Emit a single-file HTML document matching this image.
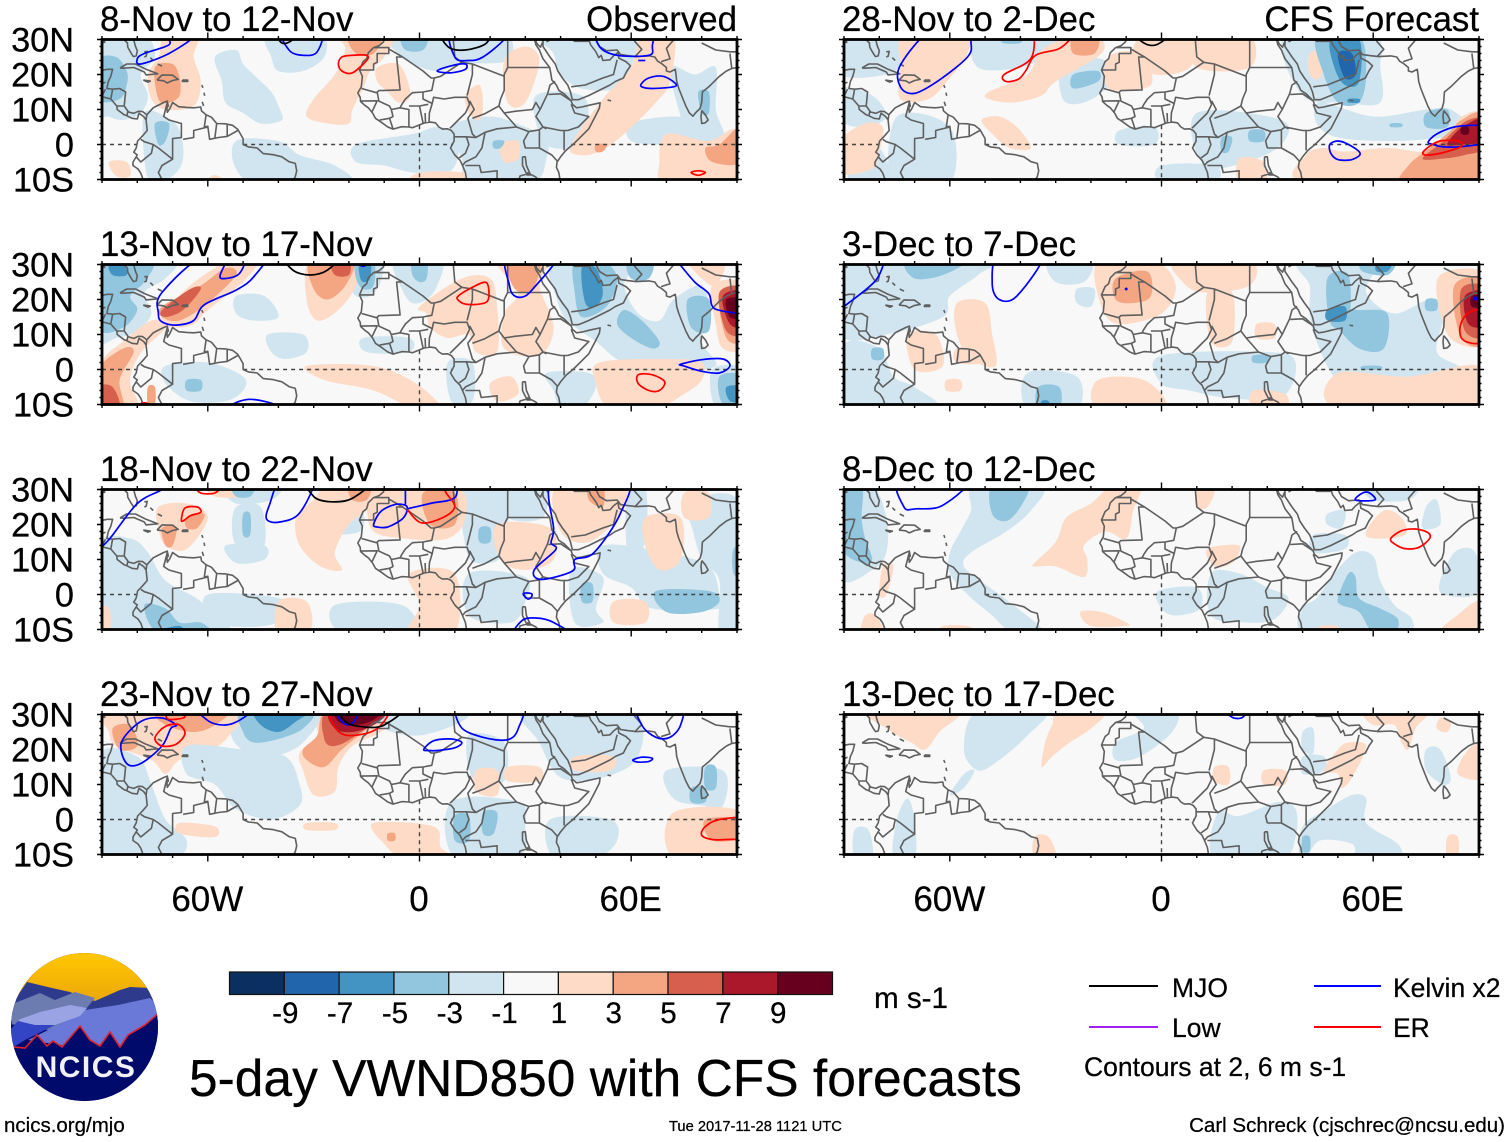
<!DOCTYPE html>
<html lang="en">
<head>
<meta charset="utf-8">
<title>5-day VWND850 with CFS forecasts</title>
<style>
html,body{margin:0;padding:0;background:#fff}
svg{display:block}
text{font-family:"Liberation Sans",sans-serif;fill:#000;stroke:#000;stroke-width:.25}
</style>
</head>
<body>
<svg id="chart" xmlns="http://www.w3.org/2000/svg" width="1510" height="1142" viewBox="0 0 1510 1142">
<rect width="1510" height="1142" fill="#fff"/>
<defs><clipPath id="logo-clip"><ellipse cx="84.5" cy="1027" rx="73.5" ry="74"/></clipPath>
<linearGradient id="sky" x1="0" y1="0" x2="0" y2="1"><stop offset="0" stop-color="#ffc800"/><stop offset="1" stop-color="#eda70a"/></linearGradient></defs>
<g id="panels"></g>
<g id="colorbar"></g>
<text x="874" y="1008" font-size="29.6">m s-1</text>
<text x="189" y="1096" font-size="51.5">5-day VWND850 with CFS forecasts</text>
<g clip-path="url(#logo-clip)">
<rect x="10" y="952" width="150" height="150" fill="#000a6b"/>
<rect x="10" y="952" width="150" height="50" fill="url(#sky)"/>
<polygon fill="#2e3a8c" points="12,1004 27,982 52,988 70,992 80,996 95,1001 120,990 130,987 150,988 160,1000 160,1025 12,1025"/>
<polygon fill="#6c7bb0" points="10,1005 40,993 55,1000 75,992 95,998 85,1010 60,1032 12,1024"/>
<polygon fill="#6a78d8" points="85,1010 118,1005 150,998 160,1008 160,1050 100,1055 60,1045 28,1040 60,1024"/>
<polygon fill="#9aa4e4" points="18,1020 40,1012 70,1005 87,1008 80,1016 55,1025 40,1027 25,1025"/>
<polygon fill="#3344c4" points="10,1030 18,1021 35,1025 55,1025 25,1040 12,1048"/>
<polygon fill="#000a6b" stroke="#e0202c" stroke-width="1.6" points="13,1047 25,1048 37,1035 47,1046 53,1041 62,1047 80,1026 90,1040 100,1046 110,1032 120,1047 128,1035 145,1025 160,1012 160,1105 8,1105"/>
<text x="86" y="1077" text-anchor="middle" font-size="30" font-weight="bold" letter-spacing="1.5" style="fill:#f2f2f6;stroke:none">NCICS</text>
</g>
<g>
<g><line x1="1089" x2="1158" y1="986" y2="986" stroke="#000" stroke-width="2"/><text x="1172" y="997" font-size="26.5">MJO</text></g>
<g><line x1="1314" x2="1381" y1="986" y2="986" stroke="#0000ff" stroke-width="2"/><text x="1393" y="997" font-size="26.5">Kelvin x2</text></g>
<g><line x1="1089" x2="1158" y1="1027" y2="1027" stroke="#a020f0" stroke-width="2"/><text x="1172" y="1037" font-size="26.5">Low</text></g>
<g><line x1="1314" x2="1381" y1="1027" y2="1027" stroke="#ff0000" stroke-width="2"/><text x="1393" y="1037" font-size="26.5">ER</text></g>
<text x="1084" y="1076" font-size="26.5">Contours at 2, 6 m s-1</text>
</g>
<text x="4" y="1132" font-size="20.5">ncics.org/mjo</text>
<text x="669" y="1131" font-size="14.7">Tue 2017-11-28 1121 UTC</text>
<text x="1505" y="1132" text-anchor="end" font-size="20.5">Carl Schreck (cjschrec@ncsu.edu)</text>
</svg>
<script>
/* ---------- axis data ---------- */
const lonMajorTicks=[-60,0,60];
const lonMajorLabels=['60W','0','60E'];
const latMajorTicks=[30,20,10,0,-10];
const latMajorLabels=['30N','20N','10N','0','10S'];
const colorbarLabels=['-9','-7','-5','-3','-1','1','3','5','7','9'];
const colorbarEdges=[-9,-7,-5,-3,-1,1,3,5,7,9];
const colorbarColors=['#0a2f60','#2166ac','#4393c3','#92c5de','#d1e5f0','#f7f8f7','#fddbc7','#f4a582','#d6604d','#ab182b','#67001f'];
const panelTitles=['8-Nov to 12-Nov','13-Nov to 17-Nov','18-Nov to 22-Nov','23-Nov to 27-Nov','28-Nov to 2-Dec','3-Dec to 7-Dec','8-Dec to 12-Dec','13-Dec to 17-Dec'];

/* ---------- geography: flat lon,lat lists ---------- */
const coastlines=[
[-81.3,31,-80.5,28,-80,26.8,-80.3,25.3,-81.1,25.1,-81.8,26.2,-82.7,27.8,-82.8,29,-83.8,30,-84.5,31],
[-89.5,31,-89.5,30,-89.2,29.2,-90.5,29.2,-92,29.6,-94,29.7,-95.5,28.8],
[-90.5,21.1,-88.5,21.5,-87,21.5,-87.5,19.5,-88.2,18,-88.6,16,-87,15.8,-85,16,-83.3,15,-83.5,13,-83.7,11,-82.5,9.3,-81,8.9,-79.7,9.5,-78.5,9.4,-77.3,8.5,-75.5,10.5,-74.5,11,-72.5,12,-71.5,12.4,-71.2,11,-71.6,10.6,-71.5,9.2,-70.8,10.2,-70,12,-68.3,10.8,-66,10.6,-64,10.5,-62,10.7,-61.8,9.6,-60.5,8.5,-59,7.8,-57.5,6,-55,5.9,-53,5.5,-51.5,4.3,-50,1.7,-50,0,-48.5,-0.7,-46,-1,-44.3,-2.6,-41.5,-2.9,-39,-3.5,-37,-4.9,-35.2,-5.4,-34.8,-7.5,-35.2,-9.2,-36.3,-11],
[-91,18.8,-90.6,20,-90.5,21.1],
[-91,13.9,-87.5,13,-85.8,11,-85.7,10,-83.7,8.5,-82.9,8.2,-81.5,7.5,-80,7.3,-79.5,8.9,-78.2,8,-77.5,7,-77.2,4,-78.5,2.5,-79.9,1,-80.3,-1,-81,-2.2,-80,-3,-81.2,-5,-81.2,-6,-79.8,-7,-79,-8.2,-78,-11],
[-84.9,21.9,-83,23,-80.5,23,-77.5,21.5,-74.2,20.2,-77.5,19.9,-78,20.7,-81,22,-84,21.8,-84.9,21.9],
[-74.4,18.4,-73,19.9,-70,19.8,-68.4,18.6,-70,18.3,-71.5,17.6,-72.5,18.2,-74.4,18.4],
[-78.3,18.4,-76.3,18.1,-77,17.8,-78.3,18.4],
[-67.2,18.4,-65.7,18.4,-65.7,18,-67.2,18,-67.2,18.4],
[-78,26.5,-77.2,26.6,-77.5,25.2,-78,25],[-76.3,24.8,-75.5,24],[-74.2,23,-73,22.4],[-61.7,17,-61.4,16.2],[-61.1,14.8,-60.9,13.9],[-61.6,12.2,-61.2,11],
[-9.8,31,-10.2,29.3,-11.5,28.2,-13,27.7,-14.5,26.2,-15,24.5,-16,23.7,-17,21.3,-16.2,19.5,-16.5,16.5,-17.5,14.7,-16.8,13.5,-16.7,12.3,-15.5,11.2,-14.5,10.5,-13.3,9,-12.5,7.5,-11,6.5,-9,5,-7.5,4.4,-5,5.1,-3,5,-2,4.8,0,5.6,1.5,6.2,3,6.4,4.5,6.2,5.5,5,6.5,4.4,8,4.5,9,4,9.8,3,9.8,1,9.3,0,8.8,-1,10,-3,11.5,-4.5,12.2,-6,13,-8,13.5,-11],
[32.5,31,32.6,30,33,28.5,34,27,35,24.5,36.9,22,37.2,20.5,37.5,18.5,38.8,17,39.5,15.5,41,14.5,43,12.5,43.3,11.5,44.5,10.5,46,10.7,48,11.2,51.2,11.9,51,10.4,49.8,8,48,4.5,46,2.5,43.5,0,41.5,-1.7,40,-3.5,39,-5,38.8,-6.5,39.5,-8,40,-11],
[35,31,35,29.5,34.3,27.8,33.3,28.8,32.8,30],
[35,29.5,35,28,37,25,38.5,23,39.2,21,40.5,19,42,17,42.8,15,43.3,12.8,45,12.8,48,14,52,16,54,17,55.5,18,57.8,19,58.8,21,59.8,22.5,58.5,23.7,56.5,24.7,56.3,26.3,55,25.3,54,24.2,52,24,51.5,25.5,50.8,24.8,50,26.5,48.5,28.5,48,30],
[48,30,50,30,51,28,53,26.8,56,27,57,25.7,59,25.4,61.5,25.1,65,25.3,66.7,25,67.5,23.8,68.5,23.2,70,22,70,21,71,20.7,72.5,21.5,72.7,20,72.9,18,73.5,16,74.5,13.5,75.5,11,76.5,9,77.5,8.1,78.2,9,79.5,10.3,80,12,80.2,15,82,16.5,85,19.5,87,21,88.5,21.7,90,22,91,22.5],
[80,9.7,81,8.5,81.8,7,81,6.2,80,6,79.8,8,80,9.7],
[53.3,12.7,54.3,12.5],[29.2,-3.5,29.2,-6,30.5,-8.7,31.5,-8.7,30.3,-6,30,-3.5,29.2,-3.5]
];
const borders=[
[-13,27.7,-8.7,27.7,-8.7,26,-12,26,-12,23.5,-13,23,-13,21.3,-17,21.3],
[-8.7,27.3,-4.8,25,-6.5,25,-5.5,15.6,-11.5,15.4,-12.2,14.8,-16.4,16],
[-4.8,25,1,21,3.3,19,4.2,19,6,19.5,12,23.5,15,23,24,19.5,24,20,25,22,25,31],
[12,23.5,10,25,9.5,31],[25,22,36.9,22],[24,19.5,24,15.5,23,13,22.5,11,24,9,27,9.5,32,10,33,12,34.2,10,33,8,35,5,36,4.5],
[15,23,15,20,13.5,14],[4.2,19,3.5,15.5,1,15,1,13,3.6,11.7,4,13.5,7,13,10,13.5,13.5,13.5,14.2,11.5,13,9,11,7,9,5,8.6,4.7],
[3.6,11.7,2.8,9,2.7,6.4],[14.2,12.5,15.5,10,13.7,7.5,15,3,16,2,13.3,2.2,9.8,2.2],
[15,7.5,18.5,8.8,22.5,11],[22.5,11,24,9,27.5,5,31,3.7,34,4.2,35,5],[16,2,18.6,3.5,22,4.5,27.5,5],
[34.2,10,36.3,14.5,37,17,38.5,18],[36.5,14.3,40,14.5,43,12.5],[43,11.5,44,9,48,8,45,5,42,4,40,4,35,5],
[41,4,41,-1.7],[34,4.2,34,-1,37.5,-3,39,-4.7],[30,-1,34,-1],[30,-1,29.5,1,31,3.7],[30.5,-8,33,-9.3,34.5,-11],
[18.6,3.5,17.7,-1,16,-3.5,13,-5,12.2,-6],[13,-6,17,-6,17.5,-8,22,-7.5,22,-11],[22,-11,28,-11,28.5,-9,30.8,-8.3],
[13.3,2.2,14,0,13,-2.5,11,-4],[-12,15,-11.5,12.4,-8.5,11,-8,10,-7.5,8,-8.5,7.5,-11.3,7],[-8.5,7.5,-7.5,4.5],
[-8,10,-5.5,10.5,-3,10,-3,5],[-5.5,10.5,-5,11.5,-4,13,-2,14.8,1,15],[-3,11,0,11,2.5,11.5],[0,11,1,6.2],[1.6,9,1.7,6.3],[-16.7,12.4,-12,12.5,-13.5,9.3],
[43,16.5,47,17,52,19,55,20,56,24.2],[36,29.3,39,31],[48,29.5,44,29.5,42,31],[61,25,63,27.2,61,29.5,61,31],[68.5,23.7,71,24.5,70,27.5,73,31],[80,29,84,27,88,26.5,91,26.5],[88,26,88.5,21.9],[91,25,90,26],
[-92,14.5,-91,17,-89,17.8],[-89,15.8,-90,13.8],[-87,15.8,-87.5,13],[-83.7,11,-85.8,11],[-82.7,9.5,-82.9,8.2],[-77.3,8.5,-77.5,7],
[-71.5,12,-72.5,8,-71,7,-67.5,6,-67.5,2,-70,1.7,-70,-4.2,-74,-1,-75.5,0,-78,0.8,-79,1.5],[-80.3,-3.5,-79,-5,-76,-2.5,-75.5,0],[-70,-4.2,-73,-6,-74,-8,-72.5,-11],
[-60.5,8.5,-61,5,-60,5.2,-59.5,1.5,-57,2,-54.5,2.3,-51.5,4],[-57.5,6,-58,2],[-54.5,5.8,-54.5,2.3],[-60,5,-64,4,-64,2,-67,1.5]
];
const equatorOceanSpans=[-90,-80,-50,9.5,43,90];
const meridianOceanSpans=[5.5,-10];

/* ---------- shading bands: [value, lon,lat, lon,lat ...] ---------- */
const p1Shade=[
[-2,-91,31,-78,31,-75,25,-79,20,-77,14,-79,9,-84,7,-88,8,-91,10],
[-4,-91,24,-86,25,-83,21,-83,17,-85,13,-91,13],
[-2,-43,31,-28,31,-27,25,-33,21,-40,21,-42,25],
[-2,-58,25,-52,27,-50,23,-46,19,-42,15,-40,11,-39,7,-45,6,-50,9,-55,12,-56,18],
[-2,-78,9,-72,8,-68,4,-67,-4,-70,-9,-76,-11,-78,-4],
[-4,-75,6,-71,6,-72,1,-74,0],
[-2,-18,0,-2,3,5,5,10,3,11,-3,8,-8,-2,-8,-10,-6,-18,-5],
[-2,9,5,20,8,30,5,36,2,36,-4,32,-11,14,-11,12,-4],
[-2,-52,1,-40,1,-34,-3,-24,-6,-20,-11,-45,-11,-52,-7],
[-2,-9,31,12,31,25,31,25,24,12,23,5,21,-2,23,-6,26],
[-2,35,31,60,31,60,22,56,16,46,16,40,20,38,26],
[-2,71,22,78,20,84,22,84,10,86,2,76,1,74,8],
[-4,79,15,82,15,82,9,80,9],
[-4,-5,31,2,31,1,27,-4,27],
[-2,33,14,46,14,48,6,47,0,38,-1,34,3],
[-2,60,6,72,8,82,6,82,1,70,0,60,1],
[-4,21,1,24,1,23,-1,21,-1],
[2,-72,31,-63,31,-64,25,-62,18,-64,11,-72,10,-76,13,-77,20,-74,25],
[4,-75,22,-70,23,-68,19,-68,14,-71,12,-74,13],
[2,-22,31,-8,31,-10,25,-14,21,-16,16,-19,10,-20,6,-26,6,-32,8,-30,13,-24,20,-21,27],
[4,-20,31,-11,31,-13,26,-18,26],
[2,-12,22,-6,23,-3,17,-3,13,-6,12,-9,15,-12,18],
[2,13,14,17,17,18,11,17,7,14,9],
[2,24,24,30,28,34,24,30,12,25,12],
[2,43,0,52,13,60,22,63,31,72,31,71,18,67,12,58,3,51,-2,45,-3],
[4,50,0,53,0,52,-2,50,-2],
[2,70,3,82,1,90,4,92,-11,70,-11,68,-5],
[4,81,-1,85,0,91,5,91,-5,83,-5],
[2,-88,-5,-83,-5,-82,-9,-86,-9],
[2,0,-8,12,-8,12,-11,-2,-11],
[2,23,0,28,1,28,-4,24,-5],
[2,-59,-9,-57,-9,-55,-11,-60,-11]
];
const p2Shade=[
[-2,-91,31,-70,31,-72,26,-78,22,-76,16,-80,11,-86,9,-91,9],
[-4,-91,31,-76,31,-78,25,-82,21,-80,17,-84,12,-91,12],
[-6,-88,30,-84,30,-83,27,-87,27],
[-2,-19,31,-11,31,-11,25,-14,21,-18,21,-20,25],
[-4,-18,31,-13,31,-13,24,-16,23,-18,26],
[-6,-17,31,-14,31,-14,26,-16,25,-17,27],
[-2,-7,31,6,31,5,24,2,20,-2,19,-5,23],
[-4,-2,31,2,31,2,26,0,25,-2,27],
[-2,38,31,60,31,58,24,62,16,68,14,72,20,80,24,82,16,80,8,84,1,72,0,58,2,50,8,42,14,39,20],
[-4,44,31,52,31,56,26,53,18,46,15,44,22],
[-6,46,29,50,29,52,22,50,18,47,19],
[-4,58,17,63,14,68,8,66,6,60,9,56,13],
[-4,76,20,82,20,82,11,77,12],
[-4,59,31,66,31,65,26,60,26],
[-2,83,0,92,0,92,-11,84,-11],
[-4,85,-2,92,-2,92,-11,86,-10],
[-6,87,-5,92,-5,92,-9,88,-9],
[-2,-52,21,-44,21,-40,15,-47,14,-52,16],
[-2,-43,10,-33,10,-32,5,-38,3,-42,5],
[-2,-72,1,-60,2,-50,-2,-50,-6,-55,-9,-65,-9,-72,-4],
[-4,-66,-3,-62,-3,-62,-6,-66,-6],
[-2,8,2,15,2,15,-9,9,-9],
[-2,36,-1,48,-1,50,-5,46,-11,40,-11,38,-6],
[-2,-16,9,-3,9,-3,5,-15,5],
[2,-91,-11,-90,2,-84,8,-76,14,-72,12,-78,6,-81,1,-82,-4,-80,-11],
[4,-91,-11,-91,0,-84,6,-81,5,-85,-3,-84,-11],
[6,-91,-11,-91,-5,-87,-5,-85,-11],
[4,-77,-5,-75,-5,-75,-10,-77,-10],
[2,-74,14,-65,24,-54,31,-46,31,-50,25,-60,17,-64,13,-69,12,-74,13],
[4,-73,18,-62,24,-55,29,-52,27,-60,19,-68,14,-73,15],
[6,-73,17,-65,23,-62,23,-67,17,-72,15],
[2,-31,31,-18,31,-18,24,-23,17,-29,14,-32,20],
[4,-31,31,-19,31,-21,24,-26,20,-30,23],
[6,-25,31,-20,31,-20,27,-24,27],
[2,-32,1,-13,1,-1,-4,6,-11,-2,-11,-13,-6,-27,-3],
[2,51,2,70,3,80,2,80,-3,75,-7,67,-11,54,-11,50,-4],
[2,0,18,12,26,20,26,22,18,22,5,16,5,14,10,8,9,3,12,2,16],
[2,22,31,36,31,34,24,38,12,34,4,24,6,24,16,28,22],
[4,25,31,34,31,32,23,27,23],
[2,73,31,86,31,84,24,80,26,76,30],
[2,83,24,92,24,92,7,86,6,84,13],
[4,85,22,92,22,92,9,87,9],
[6,85,22,92,23,92,11,87,11],
[8,86,21,92,22,92,13,88,13],
[10,87,20,92,20,92,15,88,15],
[2,20,-4,26,-2,28,-7,22,-9]
];
const p3Shade=[
[-2,-91,14,-82,16,-77,12,-72,4,-62,-2,-55,-11,-91,-11],
[-4,-78,-3,-72,-4,-68,-8,-62,-8,-60,-11,-74,-11],
[-6,-73,-10,-68,-9,-67,-11,-73,-11],
[-2,-55,31,-40,31,-42,27,-52,26],
[-4,-53,31,-47,31,-48,28,-52,28],
[-2,-52,25,-45,25,-44,14,-50,12,-53,17],
[-4,-50,23,-48,23,-48,17,-50,17],
[-2,-55,14,-44,14,-44,10,-52,9],
[-2,-60,0,-40,-1,-36,-5,-44,-9,-58,-8],
[-2,-24,-3,-5,-3,-2,-11,-22,-11],
[-2,-28,25,-17,25,-17,18,-28,18],
[-2,12,31,24,31,24,12,16,9,13,14],
[-4,17,19,20,19,20,15,17,15],
[-2,25,31,35,31,35,22,25,22],
[-2,52,14,70,12,82,8,85,0,85,-4,66,-4,60,2,52,6],
[-4,67,1,82,1,85,-2,80,-5,70,-5],
[-2,59,31,64,31,64,15,59,12],
[-2,75,26,91,26,91,-11,85,-11,85,4,80,10,77,20],
[-4,89,13,92,13,92,5,89,6],
[-2,43,7,52,5,50,-4,52,-8,44,-8],
[-4,46,3,49,3,49,-2,46,-2],
[-2,14,6,30,5,30,-2,26,-8,14,-6],
[2,-26,31,-12,31,-14,25,-20,20,-24,12,-22,7,-28,8,-34,14,-35,22,-30,27],
[4,-20,31,-14,31,-15,27,-19,27],
[2,-74,25,-66,26,-60,22,-66,13,-72,14,-74,19],
[4,-73,19,-69,19,-70,14,-72,14],
[4,-66,22,-61,23,-63,19,-66,19],
[2,-60,31,-48,31,-50,28,-58,28],
[2,-15,31,10,31,13,22,8,16,-4,16,-13,18,-15,25],
[4,1,29,10,29,10,20,3,20],
[2,39,31,58,31,57,23,48,15,40,18],
[4,48,31,52,31,52,25,48,27],
[2,22,20,37,19,38,10,30,7,23,10],
[2,64,22,74,22,74,10,68,7,64,14],
[2,75,29,82,29,82,22,75,22],
[2,55,-2,64,-2,64,-8,55,-8],
[2,-40,-2,-32,-2,-31,-10,-40,-11],
[2,-92,-4,-88,-4,-88,-11,-92,-11],
[2,-3,6,10,6,10,-11,-3,-11,0,-3]
];
const p4Shade=[
[2,-28,31,-4,31,-11,25,-19,21,-23,15,-24,8,-30,7,-33,14,-34,19,-29,24],
[4,-26,31,-9,31,-16,25,-22,20,-27,15,-32,17,-33,20,-29,24],
[6,-26,31,-10,31,-18,24,-24,21,-27,23],
[8,-25,31,-10,31,-13,27,-19,25,-24,26],
[10,-23,31,-11,31,-14,28,-19,27,-23,28],
[-2,-52,31,-29,31,-33,22,-41,18,-47,18,-53,23],
[-4,-50,31,-31,31,-33,26,-40,23,-47,22,-50,25],
[-6,-46,31,-32,31,-35,28,-40,25,-45,27],
[2,-88,31,-52,31,-54,24,-59,20,-68,17,-72,13,-76,17,-86,21,-88,25],
[4,-87,26,-82,27,-80,21,-85,20],
[4,-74,31,-55,31,-58,27,-64,25,-72,27],
[-2,-66,21,-50,20,-38,18,-34,10,-34,4,-42,0,-52,3,-58,10,-66,13],
[-2,-91,18,-80,18,-76,10,-72,0,-66,-6,-70,-11,-91,-11],
[-2,-10,31,12,31,12,28,0,24,-10,26],
[-2,14,24,24,22,24,11,15,12],
[-2,30,31,60,31,62,18,52,12,40,12,34,22],
[-2,70,14,86,14,86,4,80,4,72,6],
[-4,77,9,81,9,81,5,77,5],
[-4,81,15,84,15,84,9,81,9],
[-2,9,5,28,5,30,-2,28,-11,10,-11],
[-4,10,1,14,1,14,-6,10,-6],
[-4,18,2,22,2,21,-4,18,-4],
[-2,37,0,54,0,56,-6,50,-11,38,-11],
[2,72,2,92,2,92,-11,72,-11],
[4,81,0,92,0,92,-5,83,-6],
[2,-13,-1,4,-2,6,-8,10,-11,-4,-11,-10,-7],
[4,-9,-4,-7,-4,-7,-6,-9,-6],
[2,-32,-1,-24,-1,-24,-3,-32,-3],
[2,16,14,22,14,22,7,16,8],
[2,25,15,34,15,34,11,25,11],
[2,44,18,55,18,54,14,44,14],
[2,-68,-1,-58,-2,-58,-5,-68,-4]
];
const p5Shade=[
[-2,-91,31,-70,31,-73,24,-78,20,-91,20],
[-2,-91,16,-82,14,-78,8,-84,5,-91,7],
[-2,-52,31,-30,31,-32,26,-40,22,-52,22],
[-4,-45,31,-40,31,-40,29,-45,29],
[-2,-28,24,-16,24,-15,17,-22,12,-28,13],
[-4,-25,20,-18,21,-18,18,-25,16],
[-2,35,31,60,31,62,22,62,12,52,12,40,14],
[-4,44,31,56,31,58,20,56,12,50,12,46,20],
[-6,48,30,56,30,56,18,52,17,49,22],
[-8,50,26,54,26,55,20,52,19],
[-6,53,13,56,13,56,12,53,12],
[-2,45,12,60,8,75,10,82,10,88,4,80,2,65,1,50,2,44,6],
[-4,75,9,81,10,81,5,75,5],
[-4,65,6,68,6,68,5,65,5],
[-2,10,9,34,7,34,0,24,-5,12,-6],
[-4,17,2,20,2,19,-2,17,-2],
[-4,25,4,29,4,29,1,25,1],
[-2,-12,4,-2,5,-2,0,-12,0],
[-2,-75,8,-60,5,-60,-11,-76,-11],
[-2,-88,-1,-80,-1,-77,-11,-88,-11],
[-2,0,-6,15,-6,15,-11,0,-11],
[2,-73,31,-56,31,-55,26,-60,19,-66,13,-74,13,-74,22],
[2,-49,15,-38,20,-34,27,-25,31,-18,31,-17,26,-30,18,-34,14,-42,12,-49,13],
[4,-25,31,-18,31,-19,26,-25,26],
[2,-51,7,-46,8,-41,5,-37,-1,-43,-1,-48,3],
[2,-91,-8,-91,1,-84,6,-79,5,-80,-2,-82,-7],
[2,-15,25,-6,26,-3,17,-15,16],
[2,-5,31,10,31,8,22,-2,20,-8,25],
[2,10,31,25,31,25,22,10,22],
[2,41,-11,41,-3,46,-1,52,-2,64,-1,76,-2,82,3,85,8,92,8,92,-11],
[4,69,-11,70,-6,76,-1,82,4,85,7,91,8,91,-11],
[6,74,-4,80,1,83,4,87,7,91,7,91,-1,86,-3,80,-4],
[8,81,0,84,4,87,6,90,7,91,1,85,0],
[10,85,5,87,5,87,3,85,3],
[2,22,-4,29,-5,29,-11,22,-11],
[2,42,26,46,26,45,19,42,20]
];
const p6Shade=[
[-2,-91,31,-50,31,-52,27,-60,21,-62,15,-78,10,-91,10],
[-4,-72,31,-56,31,-62,27,-70,26],
[-2,-32,31,-20,31,-22,25,-30,25],
[-2,-24,23,-19,23,-20,18,-24,19],
[-2,39,31,60,31,58,22,66,16,76,20,80,16,78,5,84,0,60,-2,50,-3,44,8,42,16,42,24],
[-4,47,26,53,27,53,14,48,13],
[-4,48,17,56,17,64,16,63,6,56,6,50,12],
[-6,47,17,52,18,52,14,47,14],
[-4,57,31,66,31,64,27,57,28],
[-6,61,30,65,30,64,28,61,28],
[-4,75,20,78,20,78,17,75,17],
[-2,0,4,30,5,38,2,34,-8,18,-8,8,-6,0,-4],
[-4,26,4,30,4,30,2,26,2],
[-2,-38,-1,-24,-2,-24,-11,-38,-11],
[-4,-35,-5,-29,-5,-29,-11,-35,-11],
[-6,-34,-9,-32,-9,-32,-11,-34,-11],
[-2,-90,7,-80,6,-76,-2,-70,-5,-64,-11,-90,-11],
[-4,-82,6,-79,6,-79,3,-82,3],
[-2,50,5,70,3,84,0,76,-3,52,-4],
[-4,57,1,62,1,62,0,57,0],
[2,-18,31,-2,31,4,24,0,16,-12,13,-17,18],
[4,-13,26,-4,28,-3,21,-8,19,-13,20],
[2,4,31,25,31,25,24,12,22,6,25],
[2,13,22,20,22,20,8,14,8],
[2,27,13,32,13,32,9,27,9],
[2,-58,19,-50,19,-48,10,-47,1,-54,3,-58,10],
[2,-72,10,-64,10,-62,1,-70,0],
[2,-58,6,-50,6,-50,2,-58,2],
[2,50,-1,70,-2,90,1,92,-11,50,-11],
[2,79,27,92,27,92,8,83,8,79,16],
[4,83,24,92,25,92,8,85,9],
[6,85,23,92,23,92,10,86,11],
[8,86,21,92,22,92,13,87,13],
[10,88,21,92,21,92,18,88,18],
[2,-18,-3,-5,-3,1,-11,-18,-11],
[2,-61,-3,-57,-3,-57,-6,-61,-6],
[2,26,-6,35,-7,35,-11,26,-11]
];
const p7Shade=[
[-2,-91,31,-82,31,-78,22,-78,12,-82,7,-91,5],
[-4,-91,31,-85,31,-85,22,-84,16,-82,10,-85,9,-91,14],
[-2,-53,31,-34,31,-37,24,-44,18,-54,12,-56,8,-50,3,-42,-3,-33,-11,-42,-11,-48,-6,-55,0,-60,6,-60,12,-57,18,-54,24],
[-4,-48,31,-38,31,-40,25,-44,21,-48,23],
[-2,-1,1,10,2,11,-4,4,-6,0,-4],
[-2,14,6,22,6,30,2,36,-1,32,-7,24,-8,14,-6],
[-2,41,-11,40,-4,44,-1,49,6,55,12,60,11,62,4,66,-3,71,-7,68,-11],
[-4,50,-1,53,6,55,5,56,-1,62,-4,67,-7,66,-11,60,-11,56,-5,51,-3],
[-2,79,4,83,12,88,13,90,8,89,0,80,0],
[-2,47,23,52,24,51,19,47,20],
[-2,43,17,52,17,52,13,43,12],
[-2,74,19,79,20,78,27,75,25],
[-2,58,31,72,31,70,27,60,27],
[2,-36,8,-30,8,-22,5,-21,10,-22,14,-16,18,-10,16,-8,24,-6,31,-14,31,-20,26,-27,22,-30,15,-36,9],
[2,13,13,22,14,20,9,15,8],
[2,58,18,63,24,68,22,69,17,60,16],
[2,-23,-5,-17,-5,-10,-8,-10,-9,-20,-9],
[2,-62,-9,-55,-9,-53,-11,-62,-11],
[2,79,-11,85,-5,89,-2,92,-2,92,-11],
[2,10,30,15,30,13,25,10,25],
[2,-84,-6,-81,-6,-79,-11,-85,-11],
[2,-79,8,-76,8,-78,0,-80,0],
[2,-91,-1,-90,-1,-90,-5,-91,-5],
[2,45,-9,50,-9,50,-11,45,-11]
];
const p8Shade=[
[2,-83,31,-58,31,-63,25,-67,20,-71,22,-78,26],
[2,-34,15,-33,22,-31,27,-29,31,-16,31,-20,26,-26,22,-31,18],
[2,15,15,19,15,19,10,15,11],
[2,29,14,35,14,35,10,29,10],
[2,46,14,50,20,53,22,58,21,54,12,51,9,50,13],
[2,58,31,75,31,72,26,70,20,68,22,66,27,60,27],
[2,84,13,87,20,92,22,92,12],
[2,-36,-5,-32,-5,-30,-11,-36,-11],
[2,81,-5,84,-5,84,-11,81,-11],
[2,79,29,82,28,81,25,78,26],
[-2,-52,31,-33,31,-38,24,-46,17,-52,14,-56,20],
[-2,-8,31,4,31,3,25,-6,18,-13,17,-13,22,-5,26],
[-2,-60,7,-56,13,-53,14,-56,9],
[-2,-76,-11,-75,0,-72,6,-70,0,-70,-11],
[-2,-87,-3,-83,-3,-82,-11,-87,-11],
[-2,15,-11,16,2,22,1,33,5,38,3,38,-5,34,-11],
[-2,39,-11,40,-2,47,3,54,7,58,6,58,-1,67,-7,67,-11,56,-11,54,-7,45,-6,41,-11],
[-4,40,-5,42,-5,42,-9,40,-9],
[-2,75,20,79,20,82,12,80,10,75,14],
[-2,40,25,43,26,43,19,40,20],
[-2,40,18,46,18,46,14,40,13]
];

/* ---------- contours: [type, closed(1/0), lon,lat ...] ---------- */
const p1Contours=[
['kelvin',1,-64,31,-71,26,-79,23,-80,24.5,-78,26,-71,28.5,-71,31],
['kelvin',1,-39,33,-37,27,-33,25.5,-29,26.5,-28,33],
['kelvin',1,9.5,33,10,25,14,24,18,25,24,30,25,33],
['kelvin',1,5,21,9,22.5,13,23,13,21.5,9,20.5],
['kelvin',1,51,33,51,28,56,25.5,65,25.5,66,28,65,33],
['kelvin',0,62,24,64,24],
['kelvin',1,63,17.5,65,19,69,19.5,72.5,17.5,72,16.5,66,16,63,16.5],
['mjo',1,6.5,33,8,28,13,27,19,29,19,33],
['mjo',1,-41,33,-39,29,-36,30,-36,33],
['er',1,-23,23,-22,21,-19,20.5,-15,24,-15,25.5,-19,25.5,-22,25],
['er',1,77,-8,79,-7.5,81,-8,79,-8.8]
];
const p2Contours=[
['kelvin',1,-60,33,-73,22,-74,16,-73,13.6,-69,12.7,-64,14,-61,18.5,-52,22.7,-47,26.5,-44,33],
['kelvin',1,-53,33,-56.5,27,-55,26,-51,27.5,-49,33],
['kelvin',1,-18,31,-16,29.5,-14,31],
['kelvin',1,25,33,25.5,24,27,21,30,21,33,24,38,30,39,33],
['kelvin',0,73,31,78,25,82,21.7,83.5,17.5,90,16,93,15],
['kelvin',1,74,1.5,80,2.8,86,3,88,1,85,-1,80,-0.5,75,1],
['kelvin',1,-53,-12,-53,-10,-48,-8.5,-41,-10,-41,-12],
['er',1,11,21,15,23.5,19,24.8,19.5,20,17,18.7,13,18.7,11,19.8],
['er',1,62,-1.5,66,-1.5,69.5,-3.5,68,-6,65,-6,62,-4],
['er',1,-81,-11,-78,-9.5,-75,-11],
['mjo',1,-38,33,-36,28.5,-31,27,-26,28.5,-23,33]
];
const p3Contours=[
['kelvin',0,-92,12,-88,15.7,-80,26,-73,30,-70,33],
['kelvin',1,-39,33,-42.5,25.7,-43.3,21.5,-39.6,20.7,-34,23.3,-30,33],
['kelvin',1,-13,20,-11,23.7,-7,25.7,-4,25.5,-3.5,24,-5,21.5,-9,19.3,-12,19.3],
['kelvin',0,-4,25.7,-4,33],
['kelvin',0,-3.5,24.5,3,26,10,27.7,10.5,33],
['kelvin',1,38,33,38,18.6,37.3,14.8,38.6,12.8,32.5,7,34.5,4.3,43.4,6.7,44,10,49.5,12,57,23.3,58.4,33],
['kelvin',1,29.4,0.3,31.8,0.2,31.5,-1,30.5,-1.2],
['kelvin',1,27.5,-12,29,-7.5,33,-6.7,38,-8,42.7,-12],
['er',0,-3.5,24.3,0.5,20.5,6.7,22,10,25.2,7.3,29.5,7.3,33],
['er',1,-63,31,-62,29,-58,29,-57,31],
['er',1,-67.5,21.5,-66.5,24.7,-63,25,-62,23.5,-65,22.5,-67,21],
['mjo',1,-31,33,-30,28,-25,26.5,-19,27.5,-14,33]
];
const p4Contours=[
['kelvin',1,-69,27,-73,29,-79,28,-84.5,22,-83,16,-79,16,-73,21,-70.5,26],
['er',1,-71,27,-68,27,-66.5,24.5,-69,21.5,-73,21,-75,23,-73.5,25.5],
['er',1,-71.5,30,-67,30,-67,29,-71,28.6],
['kelvin',1,-63,33,-60,28.3,-55,27,-50,29,-47,33],
['kelvin',1,-24,33,-22,28,-19,27.5,-17,33],
['er',1,-25,33,-24,26.5,-20,24,-12,26,-9,33],
['mjo',1,-22,33,-21,28,-16,26.5,-10,27,-4,33],
['kelvin',1,1.2,20,4,22.5,9,23,12,22,10,20.5,5,19.7,3,19.7],
['kelvin',1,11.7,33,11.7,26.5,18,23.5,25,22.8,28,26,28.5,33],
['kelvin',1,62,33,63,27,67,23.5,71,23.5,74,27,74,33],
['kelvin',1,60.5,17,63,17.8,66,17.5,65,16.6,62,16.4],
['er',1,93,0.2,85,0,81,-2,80,-4.5,83,-5.7,87,-5.7,93,-5]
];
const p5Contours=[
['kelvin',1,-65,33,-74,22.7,-74,16.5,-70,14.6,-63,18.4,-55,25,-54,29,-55.5,33],
['er',0,-36,33,-37,24.6,-44.6,20,-44,18,-40.5,18.7,-38.4,21.2,-35.7,25.5,-29,27.4,-25,31],
['mjo',1,-8,33,-5,29,-1,28.7,3,33],
['kelvin',1,47.7,0,50,1,53,0,56.3,-2.5,54,-4.3,50,-4.3,48,-2.5],
['kelvin',1,75.6,0.7,78,3,83,5,89,5.5,94,5,94,1,86,-0.5,80,-0.7,77,0],
['er',1,74,-2.5,76,-0.5,79,1,84,1,85,-0.5,81,-2,76,-3]
];
const p6Contours=[
['kelvin',0,-78,33,-81,25.5,-90,18,-92,16],
['kelvin',1,-46,33,-48,24.6,-46,20,-41,21,-33.6,33],
['kelvin',1,-10.2,23,-10,23.2,-9.8,23,-10,22.8],
['kelvin',1,88.6,20.3,89,20.7,89.4,20.3,89,19.9],
['er',0,93,17.5,87.5,16.5,84.8,13,85,9,88,7.5,93,7.5]
];
const p7Contours=[
['kelvin',1,-74,33,-73,25,-69.5,24.5,-62,25.5,-55,33],
['kelvin',1,55,27,57,29,59,29,60.5,27],
['er',1,65,16,68,18.2,72,18.7,75.5,17.7,76,16,73,13.5,69,13.1,66,14.5]
];
const p8Contours=[
['kelvin',1,18,32,20,29.2,23,29.2,24,32]
];

/* ---------- layout + scales ---------- */
const SVGNS='http://www.w3.org/2000/svg';
const PLOT_W=635, PLOT_H=140;
const colLeft=[102,844];
const rowTop=[39.5,264.5,489.5,714.5];
const contourColor={kelvin:'#0000ff',er:'#ff0000',mjo:'#000000',low:'#a020f0'};
const panelShade=[p1Shade,p2Shade,p3Shade,p4Shade,p5Shade,p6Shade,p7Shade,p8Shade];
const panelContours=[p1Contours,p2Contours,p3Contours,p4Contours,p5Contours,p6Contours,p7Contours,p8Contours];
function lonX(left,lon){return left+(lon+90)*PLOT_W/180;}
function latY(top,lat){return top+(30-lat)*PLOT_H/40;}
function colorFor(v){let i=0;while(i<colorbarEdges.length&&v>colorbarEdges[i])i++;return colorbarColors[i];}
function mk(tag,attrs,parent,txt){
  const e=document.createElementNS(SVGNS,tag);
  for(const k in attrs)e.setAttribute(k,attrs[k]);
  if(txt!==undefined)e.textContent=txt;
  parent.appendChild(e);
  return e;
}
function toPts(arr,start,left,top){
  const p=[];
  for(let i=start;i<arr.length;i+=2)p.push([lonX(left,arr[i]),latY(top,arr[i+1])]);
  return p;
}
function f(n){return n.toFixed(1);}
function smoothClosed(p){
  const n=p.length;let d='M'+f(p[0][0])+' '+f(p[0][1]);
  for(let i=0;i<n;i++){
    const a=p[(i-1+n)%n],b=p[i],c=p[(i+1)%n],e=p[(i+2)%n];
    d+='C'+f(b[0]+(c[0]-a[0])/6)+' '+f(b[1]+(c[1]-a[1])/6)+' '+f(c[0]-(e[0]-b[0])/6)+' '+f(c[1]-(e[1]-b[1])/6)+' '+f(c[0])+' '+f(c[1]);
  }
  return d+'Z';
}
function smoothOpen(p){
  let d='M'+f(p[0][0])+' '+f(p[0][1]);
  for(let i=0;i<p.length-1;i++){
    const a=p[Math.max(i-1,0)],b=p[i],c=p[i+1],e=p[Math.min(i+2,p.length-1)];
    d+='C'+f(b[0]+(c[0]-a[0])/6)+' '+f(b[1]+(c[1]-a[1])/6)+' '+f(c[0]-(e[0]-b[0])/6)+' '+f(c[1]-(e[1]-b[1])/6)+' '+f(c[0])+' '+f(c[1]);
  }
  return d;
}
function polyD(list,left,top){
  let d='';
  list.forEach(function(a){
    const p=toPts(a,0,left,top);
    d+='M'+p.map(function(q){return f(q[0])+' '+f(q[1]);}).join('L');
  });
  return d;
}

const root=document.getElementById('panels');
const defs=document.querySelector('defs');
panelTitles.forEach(function(title,idx){
  const col=idx<4?0:1,row=idx%4,left=colLeft[col],top=rowTop[row];
  const g=mk('g',{},root);
  
  
  const cp=mk('clipPath',{id:'clip'+idx},defs);
  mk('rect',{x:left,y:top,width:PLOT_W,height:PLOT_H},cp);
  const bg=mk('rect',{x:left,y:top,width:PLOT_W,height:PLOT_H,fill:'#f7f8f7'},g);
  
  
  const clip=mk('g',{'clip-path':'url(#clip'+idx+')'},g);
  
  
  /* shading, weakest first */
  panelShade[idx].slice().sort(function(a,b){return Math.abs(a[0])-Math.abs(b[0]);}).forEach(function(b){
    const s=mk('path',{d:smoothClosed(toPts(b,1,left,top)),fill:colorFor(b[0])},clip);
    
    
  });
  /* grid dashes over ocean */
  let gd='';
  for(let i=0;i<equatorOceanSpans.length;i+=2){
    gd+='M'+f(lonX(left,equatorOceanSpans[i]))+' '+f(latY(top,0))+'L'+f(lonX(left,equatorOceanSpans[i+1]))+' '+f(latY(top,0));
  }
  gd+='M'+f(lonX(left,0))+' '+f(latY(top,meridianOceanSpans[0]))+'L'+f(lonX(left,0))+' '+f(latY(top,meridianOceanSpans[1]));
  const grid=mk('path',{d:gd,fill:'none',stroke:'#444','stroke-width':1.4,'stroke-dasharray':'4 4'},clip);
  
  
  /* land */
  const land=mk('path',{d:polyD(coastlines,left,top)+polyD(borders,left,top),fill:'none',stroke:'#5f5f5f','stroke-width':1.6,'stroke-linejoin':'round'},clip);
  
  
  /* contours */
  panelContours[idx].forEach(function(c){
    const pts=toPts(c,2,left,top);
    const l=mk('path',{d:c[1]?smoothClosed(pts):smoothOpen(pts),fill:'none',stroke:contourColor[c[0]],'stroke-width':1.7},clip);
    
    
  });
  /* ticks */
  let t='';
  for(let lon=-90;lon<=90;lon+=10){
    const major=lonMajorTicks.indexOf(lon)>=0,len=major?7:3.5,x=f(lonX(left,lon));
    t+='M'+x+' '+f(top)+'v'+(-len)+'M'+x+' '+f(top+PLOT_H)+'v'+len;
  }
  for(let lat=-10;lat<=30;lat+=2){
    const major=latMajorTicks.indexOf(lat)>=0,len=major?5:2.5,y=f(latY(top,lat));
    t+='M'+f(left)+' '+y+'h'+(-len)+'M'+f(left+PLOT_W)+' '+y+'h'+len;
  }
  const ticks=mk('path',{d:t,stroke:'#000','stroke-width':1.4,fill:'none'},g);
  
  
  const frame=mk('rect',{x:left,y:top,width:PLOT_W,height:PLOT_H,fill:'none',stroke:'#000','stroke-width':2.8},g);
  
  
  /* title */
  const tt=mk('text',{x:left-2,y:top-8.5,'font-size':34.8},g,title);
  
  
  /* y labels only on left column */
  if(col===0){
    latMajorTicks.forEach(function(lat,i){
      const yl=mk('text',{x:74,y:f(latY(top,lat)+12),'text-anchor':'end','font-size':34.3},g,latMajorLabels[i]);
      
      
    });
  }
  /* x labels on the bottom row */
  if(row===3){
    lonMajorTicks.forEach(function(lon,i){
      const xl=mk('text',{x:f(lonX(left,lon)-0.5),y:911,'text-anchor':'middle','font-size':35},g,lonMajorLabels[i]);
      
      
    });
  }
});
/* header tags */
const tagObs=mk('text',{x:737,y:31,'text-anchor':'end','font-size':34.8},root,'Observed');


const tagCfs=mk('text',{x:1479,y:31,'text-anchor':'end','font-size':34.8},root,'CFS Forecast');



/* colorbar */
const cb=document.getElementById('colorbar');
const CB_L=229.5,CB_T=972,CB_W=603,CB_H=22.5,binW=CB_W/colorbarColors.length;
colorbarColors.forEach(function(c,i){
  const cell=mk('rect',{x:f(CB_L+i*binW),y:CB_T,width:f(binW),height:CB_H,fill:c,stroke:'#111','stroke-width':1.2},cb);
  
  
});
colorbarLabels.forEach(function(l,i){
  const lab=mk('text',{x:f(CB_L+(i+1)*binW+(l.length>1?1:0.5)),y:1023,'text-anchor':'middle','font-size':29.6},cb,l);
  
  
});
</script>
</body>
</html>
